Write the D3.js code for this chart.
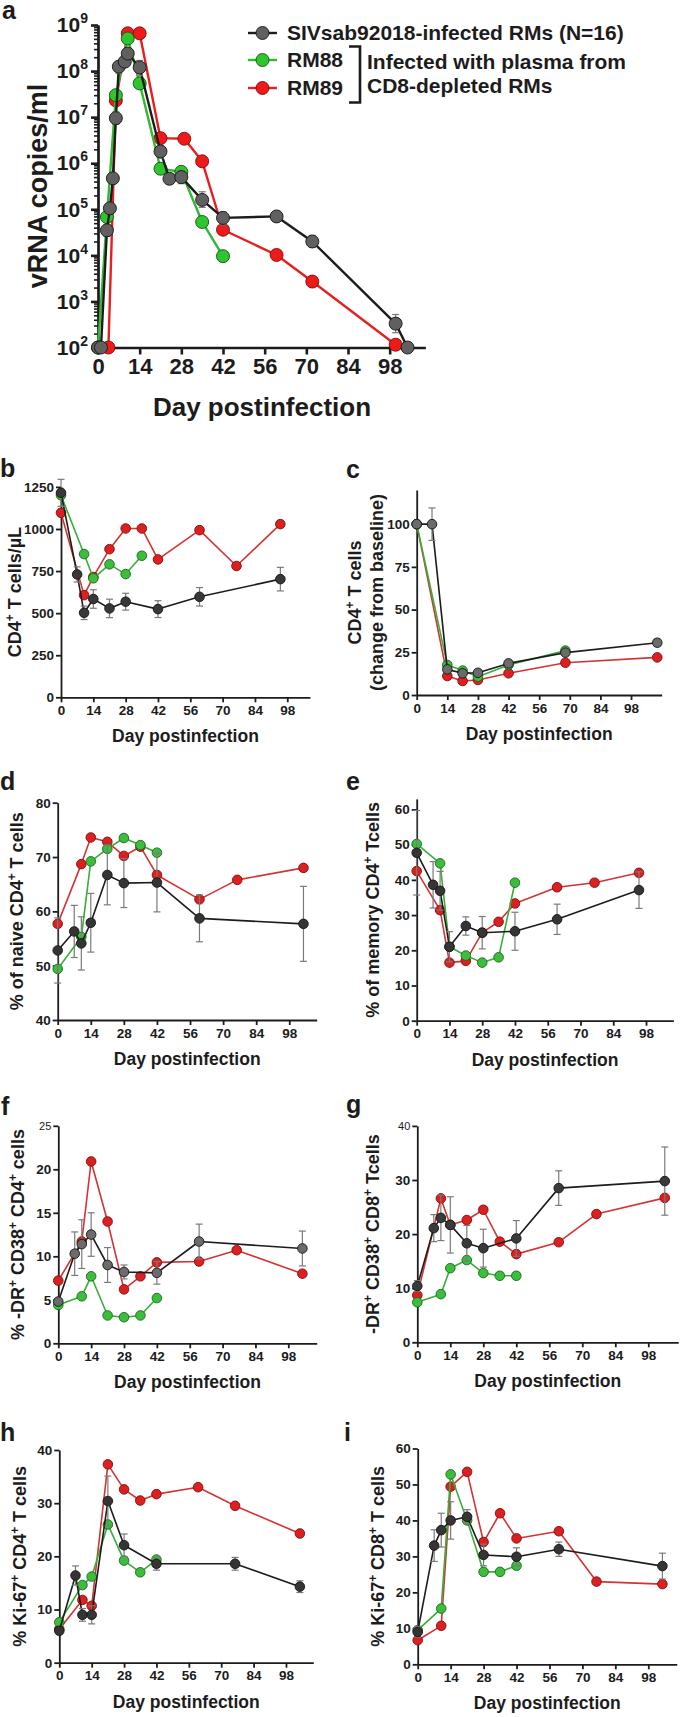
<!DOCTYPE html>
<html>
<head>
<meta charset="utf-8">
<script src="https://cdn.jsdelivr.net/npm/d3@7"></script>
<style>
  body { margin: 0; background: #fff; }
  svg { display: block; font-family: "Liberation Sans", Arial, Helvetica, sans-serif; font-weight: bold; }
</style>
</head>
<body>
<svg id="fig" width="680" height="1717"></svg>
<script>
// ---- data ----
var xTicks = [0, 14, 28, 42, 56, 70, 84, 98];
var aYTicks = [1e2, 1e3, 1e4, 1e5, 1e6, 1e7, 1e8, 1e9];
var legendLabels = ["SIVsab92018-infected RMs (N=16)", "RM88", "RM89"];
var legendNote = ["Infected with plasma from", "CD8-depleted RMs"];

// panel a: [day, copies/ml, low, high]
var aSiv = [[0,1e2],[1,1e2],[3,3.5e4,2.6e4,4.6e4],[4,1.05e5],[5,4.7e5],[6,9.5e6,7e6,1.3e7],[7,1.25e8,9e7,1.6e8],[9,1.6e8],[10,2.4e8,1.8e8,3e8],[14,1.2e8,8e7,1.7e8],[21,1.8e6,1.3e6,2.4e6],[24,4.6e5],[28,5e5,3.6e5,7e5],[35,1.6e5,1.1e5,2.4e5],[42,6.5e4,4.6e4,8.8e4],[60,7e4,5.4e4,9e4],[72,2e4,1.5e4,2.7e4],[100,3.3e2,2.1e2,5.2e2],[104,1e2]];
var aRm88 = [[0,1e2],[3,6.8e4],[6,3e7],[10,5.1e8],[14,5.4e7],[21,7.6e5],[28,6.5e5],[35,5.3e4],[42,9.6e3]];
var aRm89 = [[3.5,1e2],[6,2.3e7],[10,6.6e8],[14,6.6e8],[21,3.5e6],[29,3.4e6],[35,1.1e6],[42,3.6e4],[60,1.02e4],[72,2.7e3],[100,1.15e2]];

// panels b-i: [day, value, sem]
var bSiv = [[0,1215,80],[7,730,45],[10,502,40],[14,584,55],[21,528,55],[28,568,50],[42,524,50],[60,597,55],[95,702,70]];
var bRm88 = [[0,1200],[10,851],[14,707],[21,790],[28,732],[35,841]];
var bRm89 = [[0,1096],[10,607],[14,715],[21,880],[28,1003],[35,1003],[42,819],[60,993],[76,780],[95,1029]];

var cSiv = [[0,100],[7,100,9.5],[14,15,1.5],[21,12.7,1.5],[28,13,1.5],[42,18.5,1.5],[68,24.8,1.5],[110,30.6,2]];
var cRm88 = [[0,100],[14,17.6],[21,14.3],[28,10.7],[42,17.6],[68,26]];
var cRm89 = [[0,100],[14,11.1],[21,8.2],[28,8.8],[42,12.7],[68,18.9],[110,22]];

var dSiv = [[0,52.8,6],[7,56.3,4.8],[10,54.1,4.9],[14,57.9,5.4],[21,66.7,5.5],[28,65.2,4.5],[42,65.3,5.4],[60,58.7,4.3],[104,57.7,6.9]];
var dRm88 = [[0,49.4],[10,55.3],[14,69.2],[21,71.5],[28,73.5],[35,72.2],[42,70.8]];
var dRm89 = [[0,57.7],[10,68.7],[14,73.6],[21,72.8],[28,70.2],[35,71.9],[42,66.7],[60,62.2],[76,65.8],[104,68]];

var eSiv = [[0,47.7,12],[7,38.6,6.6],[10,36.9,5.5],[14,21,4.3],[21,26.9,2.6],[28,25,4.6],[42,25.4,5.4],[60,28.8,4.3],[95,37.1,5.2]];
var eRm88 = [[0,50.2],[10,44.7],[14,21],[21,18.5],[28,16.5],[35,18],[42,39.2]];
var eRm89 = [[0,42.5],[10,31.4],[14,16.5],[21,17],[28,25],[35,28.1],[42,33.3],[60,37.9],[76,39.2],[95,42]];

var fSiv = [[0,4.8],[7,10.3,2.5],[10,11.4,2.8],[14,12.5,2.5],[21,9,2],[28,8.2,0.8],[42,8.1,1.3],[60,11.7,2],[104,10.9,2]];
var fRm88 = [[0,4.4],[10,5.4],[14,7.7],[21,3.2],[28,3.0],[35,3.2],[42,5.2]];
var fRm89 = [[0,7.2],[10,11.7],[14,20.9],[21,14],[28,6.2],[35,7.7],[42,9.3],[60,9.4],[76,10.7],[104,8]];

var gSiv = [[0,10.4,1],[7,21.1,2.5],[10,23,4.2],[14,21.7,5.2],[21,18.3,3.3],[28,17.4,3.5],[42,19.2,3.3],[60,28.5,3.2],[105,29.8,6.3]];
var gRm88 = [[0,7.4],[10,8.9],[14,13.7],[21,15.2],[28,12.8],[35,12.3],[42,12.3]];
var gRm89 = [[0,8.7],[10,26.6],[14,21.7],[21,22.6],[28,24.5],[35,18.6],[42,16.3],[60,18.5],[76,23.7],[105,26.7]];

var hSiv = [[0,6],[7,16.4,1.8],[10,9,1.2],[14,9,1.7],[21,30.4,4.7],[28,22.1,2.1],[42,18.6,1.2],[76,18.6,1.2],[104,14.3,1.1]];
var hRm88 = [[0,7.6],[10,14.6],[14,16.2],[21,26],[28,19.2],[35,17],[42,19.4]];
var hRm89 = [[0,6.3],[10,11.8],[14,10.7],[21,37.3],[28,32.6],[35,30.5],[42,31.7],[60,33],[76,29.5],[104,24.3]];

var iSiv = [[0,9,1.5],[7,33,4.4],[10,37.3,4.7],[14,40,5.2],[21,41,2],[28,30.4,3],[42,29.9,2.5],[60,32,2],[104,27.3,3.6]];
var iRm88 = [[0,9.5],[10,15.5],[14,52.8],[21,40],[28,25.7],[35,25.7],[42,27.4]];
var iRm89 = [[0,6.7],[10,10.7],[14,49.4],[21,53.5],[28,34],[35,42],[42,35],[60,37],[76,23],[104,22.3]];

// ---- drawing ----
var svg = d3.select("#fig");
var INK = "#1c1c1c";

var red = {line: "#d23434", fill: "#dd1f1f", stroke: "#7d1010"};
var green = {line: "#38ad38", fill: "#3dbd3d", stroke: "#1b6a1b"};

// "{+}" in a label string means superscript
function rich(sel, str, fs) {
    var parts = str.split(/(\{[^}]*\})/), raised = false;
    parts.forEach(function (p) {
        if (!p) return;
        if (p.charAt(0) === "{") {
            sel.append("tspan").attr("dy", -fs * 0.4).attr("font-size", fs * 0.66).text(p.slice(1, -1));
            raised = true;
        } else {
            sel.append("tspan").attr("dy", raised ? fs * 0.4 : null).text(p);
            raised = false;
        }
    });
}

function styleAxis(sel, fs, sw) {
    sel.attr("font-family", null).attr("font-size", fs).attr("font-weight", "bold");
    sel.select(".domain").attr("stroke", INK).attr("stroke-width", sw);
    sel.selectAll(".tick line").attr("stroke", INK).attr("stroke-width", sw);
    sel.selectAll(".tick text").attr("fill", INK);
}

function drawSeries(g, x, y, data, st, r, lw, bounds) {
    g.append("path").datum(data)
        .attr("fill", "none").attr("stroke", st.line).attr("stroke-width", lw)
        .attr("stroke-linejoin", "round")
        .attr("d", d3.line().x(function (d) { return x(d[0]); }).y(function (d) { return y(d[1]); }));

    if (bounds) {
        var withErr = data.filter(function (d) { return d.length > 2; });
        var eg = g.append("g").attr("stroke", "#7a7a7a").attr("stroke-width", 1.2);
        eg.selectAll("line.v").data(withErr).join("line").attr("class", "v")
            .attr("x1", function (d) { return x(d[0]); }).attr("x2", function (d) { return x(d[0]); })
            .attr("y1", function (d) { return y(bounds(d)[0]); }).attr("y2", function (d) { return y(bounds(d)[1]); });
        [0, 1].forEach(function (k) {
            eg.selectAll("line.c" + k).data(withErr).join("line").attr("class", "c" + k)
                .attr("x1", function (d) { return x(d[0]) - 3.5; }).attr("x2", function (d) { return x(d[0]) + 3.5; })
                .attr("y1", function (d) { return y(bounds(d)[k]); }).attr("y2", function (d) { return y(bounds(d)[k]); });
        });
    }

    g.append("g").selectAll("circle").data(data).join("circle")
        .attr("cx", function (d) { return x(d[0]); })
        .attr("cy", function (d) { return y(d[1]); })
        .attr("r", r)
        .attr("fill", st.fill).attr("stroke", st.stroke).attr("stroke-width", 0.9);
}

function letter(t, x, y) {
    svg.append("text").attr("x", x).attr("y", y).attr("font-size", 25).attr("fill", INK).text(t);
}

// ---- panel a ----
(function () {
    var gray = {line: INK, fill: "#606060", stroke: "#151515"};
    var x = d3.scaleLinear().domain([0, 110]).range([98, 425.4]);
    var y = d3.scaleLog().domain([1e2, 1e9]).range([347.5, 25]);
    var g = svg.append("g");

    letter("a", 2, 19);

    var minors = [];
    for (var e = 2; e < 9; e++) {
        for (var m = 2; m < 10; m++) minors.push(m * Math.pow(10, e));
    }
    var mn = g.append("g").attr("transform", "translate(98,0)")
        .call(d3.axisLeft(y).tickValues(minors).tickSize(4).tickFormat("").tickSizeOuter(0));
    styleAxis(mn, 10, 1.6);

    var xa = g.append("g").attr("transform", "translate(0,347.5)")
        .call(d3.axisBottom(x).tickValues(xTicks).tickSize(7).tickPadding(4).tickSizeOuter(0));
    styleAxis(xa, 22, 2.6);

    var ya = g.append("g").attr("transform", "translate(98,0)")
        .call(d3.axisLeft(y).tickValues(aYTicks).tickSize(7).tickPadding(3).tickSizeOuter(0));
    styleAxis(ya, 21, 2.6);
    ya.selectAll(".tick text").text("10").append("tspan")
        .attr("dy", -9).attr("font-size", 14)
        .text(function (d) { return Math.round(Math.log10(d)); });

    var yl = g.append("text").attr("text-anchor", "middle").attr("font-size", 27).attr("fill", INK)
        .attr("transform", "translate(" + (37.5 + 27 * 0.35) + ",186) rotate(-90)");
    rich(yl, "vRNA copies/ml", 27);
    g.append("text").attr("x", 262).attr("y", 416).attr("text-anchor", "middle")
        .attr("font-size", 26).attr("fill", INK).text("Day postinfection");

    var bnd = function (d) { return [d[2], d[3]]; };
    drawSeries(g, x, y, aRm89, {line: "#e42020", fill: "#ee1a1a", stroke: "#7a0d0d"}, 6.5, 2.4, null);
    drawSeries(g, x, y, aRm88, {line: "#33b833", fill: "#2ec52e", stroke: "#145214"}, 6.5, 2.4, null);
    drawSeries(g, x, y, aSiv, gray, 6.5, 2.4, bnd);

    // legend
    var legY = [33, 60, 88];
    var legSt = [gray, {line: "#33b833", fill: "#2ec52e", stroke: "#145214"}, {line: "#e42020", fill: "#ee1a1a", stroke: "#7a0d0d"}];
    var lg = g.append("g");
    legendLabels.forEach(function (t, i) {
        lg.append("line").attr("x1", 248).attr("x2", 277).attr("y1", legY[i]).attr("y2", legY[i])
            .attr("stroke", legSt[i].line).attr("stroke-width", 2.4);
        lg.append("circle").attr("cx", 262.5).attr("cy", legY[i]).attr("r", 6.5)
            .attr("fill", legSt[i].fill).attr("stroke", legSt[i].stroke).attr("stroke-width", 0.9);
        lg.append("text").attr("x", 287).attr("y", legY[i] + 7.3).attr("font-size", 21).attr("fill", INK).text(t);
    });
    lg.append("path").attr("d", "M349,46.5H360V102.5H349").attr("fill", "none")
        .attr("stroke", INK).attr("stroke-width", 2.6);
    legendNote.forEach(function (t, i) {
        lg.append("text").attr("x", 367).attr("y", [62, 86][i] + 7.3).attr("font-size", 21)
            .attr("fill", INK).text(t);
    });
})();

// ---- panels b-i ----
function drawPanel(p) {
    var x = d3.scaleLinear().domain([0, p.xMax]).range([p.x0, p.x0 + p.xMax * p.pxDay]);
    var y = d3.scaleLinear().domain(p.yDomain).range([p.yBottom, p.yTop]);
    var g = svg.append("g");

    letter(p.id, p.lx, p.ly);

    var xa = g.append("g").attr("transform", "translate(0," + p.yBottom + ")")
        .call(d3.axisBottom(x).tickValues(xTicks).tickSize(5).tickPadding(3).tickSizeOuter(0));
    styleAxis(xa, 13.5, 1.8);
    var ya = g.append("g").attr("transform", "translate(" + p.x0 + ",0)")
        .call(d3.axisLeft(y).tickValues(p.yTicks).tickFormat(d3.format("d"))
            .tickSize(5).tickPadding(2).tickSizeOuter(0));
    styleAxis(ya, 13.5, 1.8);
    if (p.smallTop) {
        ya.selectAll(".tick text").filter(function (d) { return d === p.yDomain[1]; })
            .attr("font-size", 11).attr("font-weight", "normal");
    }

    var cy = (p.yBottom + p.yTop) / 2;
    var labs = [].concat(p.yLabel), lxs = [].concat(p.labX);
    labs.forEach(function (s, k) {
        var t = g.append("text").attr("text-anchor", "middle").attr("font-size", 18).attr("fill", INK)
            .attr("transform", "translate(" + (lxs[k] + 18 * 0.35) + "," + cy + ") rotate(-90)");
        rich(t, s, 18);
    });
    g.append("text").attr("x", (x.range()[0] + x.range()[1]) / 2).attr("y", p.yBottom + 45)
        .attr("text-anchor", "middle").attr("font-size", 17.5).attr("fill", INK).text("Day postinfection");

    var bnd = function (d) { return [d[1] - d[2], d[1] + d[2]]; };
    drawSeries(g, x, y, p.rm89, red, 4.8, 1.6, null);
    drawSeries(g, x, y, p.rm88, green, 4.8, 1.6, null);
    drawSeries(g, x, y, p.siv, {line: INK, fill: p.grayFill, stroke: "#151515"}, 4.8, 1.6, bnd);
}

drawPanel({id: "b", lx: 0, ly: 477, x0: 61, pxDay: 2.309, xMax: 107.8, yBottom: 697.3, yTop: 486.9,
    yDomain: [0, 1250], yTicks: [0, 250, 500, 750, 1000, 1250], labX: 15, grayFill: "#383838",
    yLabel: "CD4{+} T cells/\u00b5L", siv: bSiv, rm88: bRm88, rm89: bRm89});
drawPanel({id: "c", lx: 346, ly: 478, x0: 416.7, pxDay: 2.187, xMax: 112, yBottom: 695, yTop: 490,
    yDomain: [0, 120], yTicks: [0, 25, 50, 75, 100], labX: [355, 377], grayFill: "#6b6b6b",
    yLabel: ["CD4{+} T cells", "(change from baseline)"], siv: cSiv, rm88: cRm88, rm89: cRm89});
drawPanel({id: "d", lx: 0, ly: 790, x0: 57.7, pxDay: 2.363, xMax: 109.6, yBottom: 1020, yTop: 802.7,
    yDomain: [40, 80], yTicks: [40, 50, 60, 70, 80], labX: 17, grayFill: "#353535",
    yLabel: "% of naive CD4{+} T cells", siv: dSiv, rm88: dRm88, rm89: dRm89});
drawPanel({id: "e", lx: 346, ly: 790, x0: 416.7, pxDay: 2.34, xMax: 109.7, yBottom: 1020.7, yTop: 798.9,
    yDomain: [0, 63], yTicks: [0, 10, 20, 30, 40, 50, 60], labX: 373, grayFill: "#353535",
    yLabel: "% of memory CD4{+} Tcells", siv: eSiv, rm88: eRm88, rm89: eRm89});
drawPanel({id: "f", lx: 1, ly: 1115, x0: 58.3, pxDay: 2.347, xMax: 110.1, yBottom: 1343.3, yTop: 1125.8,
    yDomain: [0, 25], yTicks: [0, 5, 10, 15, 20, 25], labX: 18, grayFill: "#6b6b6b", smallTop: true,
    yLabel: "% -DR{+} CD38{+} CD4{+} cells", siv: fSiv, rm88: fRm88, rm89: fRm89});
drawPanel({id: "g", lx: 346, ly: 1113, x0: 417.3, pxDay: 2.357, xMax: 110.7, yBottom: 1342.3, yTop: 1125.9,
    yDomain: [0, 40], yTicks: [0, 10, 20, 30, 40], labX: 373, grayFill: "#3a3a3a", smallTop: true,
    yLabel: "-DR{+} CD38{+} CD8{+} Tcells", siv: gSiv, rm88: gRm88, rm89: gRm89});
drawPanel({id: "h", lx: 0, ly: 1441, x0: 59.3, pxDay: 2.313, xMax: 109.8, yBottom: 1662.7, yTop: 1450,
    yDomain: [0, 40], yTicks: [0, 10, 20, 30, 40], labX: 20, grayFill: "#353535",
    yLabel: "% Ki-67{+} CD4{+} T cells", siv: hSiv, rm88: hRm88, rm89: hRm89});
drawPanel({id: "i", lx: 344, ly: 1441, x0: 417.7, pxDay: 2.353, xMax: 110.1, yBottom: 1664.3, yTop: 1448.5,
    yDomain: [0, 60], yTicks: [0, 10, 20, 30, 40, 50, 60], labX: 378, grayFill: "#353535",
    yLabel: "% Ki-67{+} CD8{+} T cells", siv: iSiv, rm88: iRm88, rm89: iRm89});
</script>
</body>
</html>
